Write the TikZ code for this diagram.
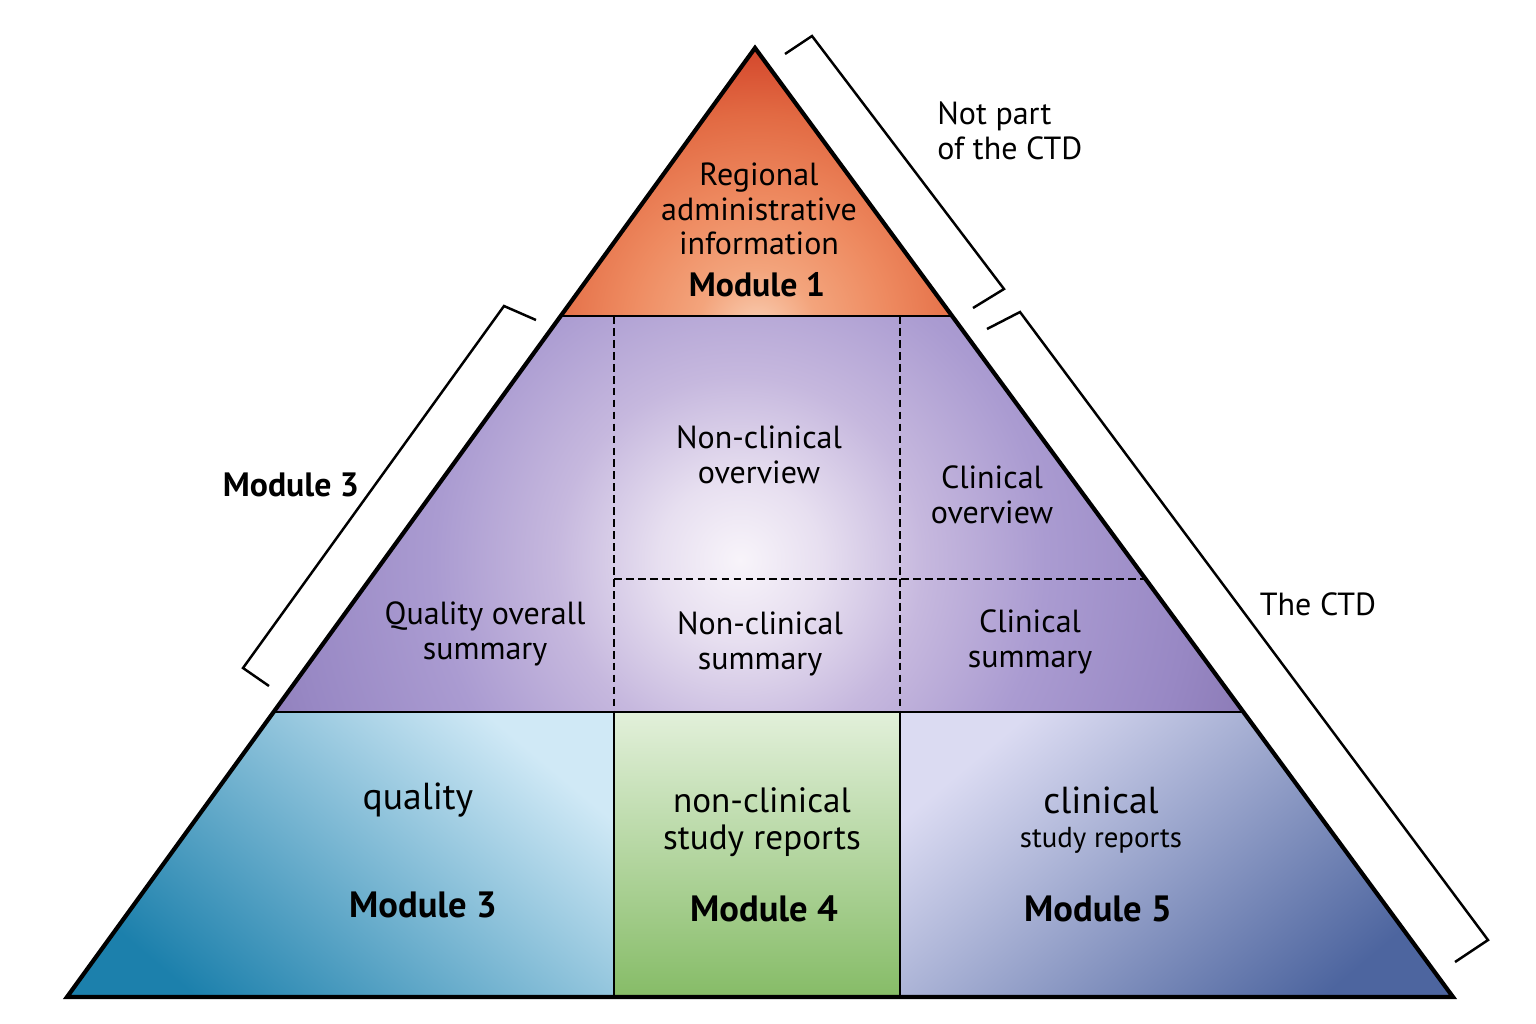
\documentclass[tikz,border=0pt]{standalone}
\usepackage{fontspec}
\setmainfont{PT Sans}
\usetikzlibrary{calc}
\definecolor{ctdredtop}{HTML}{D2442A}
\definecolor{ctdreddeep}{HTML}{E26A43}
\definecolor{ctdorange}{HTML}{EE8A60}
\definecolor{ctdorangelight}{HTML}{F3A47C}
\definecolor{ctdpeach}{HTML}{F9CEB3}
\definecolor{glowwhite}{HTML}{F8F4FA}
\definecolor{glowlight}{HTML}{E7DFF0}
\definecolor{glowmid}{HTML}{C6B8DE}
\definecolor{glowedge}{HTML}{AA9BD1}
\definecolor{glowouter}{HTML}{9888C4}
\definecolor{glowdark}{HTML}{7F6EA9}
\definecolor{qualdark}{HTML}{1C80AC}
\definecolor{quallight}{HTML}{D0E9F6}
\definecolor{ncgreen}{HTML}{86BC67}
\definecolor{ncgreenlight}{HTML}{E2F0DA}
\definecolor{clinlight}{HTML}{DBDBF2}
\definecolor{clindark}{HTML}{4D659F}
\pgfdeclareradialshading{ctdglow}{\pgfpointorigin}{color(0bp)=(glowwhite); color(4bp)=(glowlight); color(9bp)=(glowmid); color(15bp)=(glowedge); color(22bp)=(glowouter); color(30bp)=(glowdark); color(50bp)=(glowdark)}
\pgfdeclareradialshading{modoneglow}{\pgfpointorigin}{color(0bp)=(ctdpeach); color(5bp)=(ctdorangelight); color(11bp)=(ctdorange); color(18bp)=(ctdreddeep); color(24bp)=(ctdredtop); color(50bp)=(ctdredtop)}

\begin{document}
\begin{tikzpicture}[x=0.01cm, y=-0.01cm,
    outline/.style={line width=1.2pt, line join=miter},
    divider/.style={line width=0.6pt},
    dashdiv/.style={line width=0.45pt, dash pattern=on 2.2pt off 1.2pt},
    bracketline/.style={line width=0.7pt, line join=miter},
    txt/.style={align=center, font=\fontsize{9.1}{9.8}\selectfont},
    bigtxt/.style={font=\fontsize{10.7}{12}\selectfont},
    smalltxt/.style={font=\fontsize{8.2}{9.5}\selectfont},
    modtxt/.style={font=\fontsize{9.6}{11}\selectfont\bfseries},
    modbigtxt/.style={font=\fontsize{10.4}{12}\selectfont\bfseries}]
    \useasboundingbox (0,0) rectangle (1536,1024);

    % pyramid corners and band edges
    \coordinate (apex) at (755,48);
    \coordinate (bl) at (67,997);
    \coordinate (br) at (1453,997);
    \coordinate (m1l) at (561,316);
    \coordinate (m1r) at (952,316);
    \coordinate (sumdl) at (274,712);
    \coordinate (sumdr) at (1243,712);

    % fills
    \begin{scope}
        \clip (apex) -- (m1r) -- (m1l) -- cycle;
        \shade[shading=modoneglow] (457,30) rectangle (1057,630);
    \end{scope}
    \begin{scope}
        \clip (m1l) -- (m1r) -- (sumdr) -- (sumdl) -- cycle;
        \shade[shading=ctdglow] (230,50) rectangle (1250,1070);
    \end{scope}
    \shade[top color=quallight, bottom color=qualdark, shading angle=-40]
        (sumdl) -- (614,712) -- (614,997) -- (bl) -- cycle;
    \shade[top color=ncgreenlight, bottom color=ncgreen]
        (614,712) rectangle (900,997);
    \shade[top color=clinlight, bottom color=clindark, shading angle=40]
        (900,712) -- (sumdr) -- (br) -- (900,997) -- cycle;

    % dividers
    \draw[divider] (m1l) -- (m1r);
    \draw[divider] (sumdl) -- (sumdr);
    \draw[dashdiv] (614,316) -- (614,712);
    \draw[dashdiv] (900,316) -- (900,712);
    \draw[dashdiv] (614,579) -- (1146,579);
    \draw[divider] (614,712) -- (614,997);
    \draw[divider] (900,712) -- (900,997);
    \draw[outline] (apex) -- (br) -- (bl) -- cycle;

    % brackets
    \draw[bracketline] (785,54) -- (812,36) -- (1004,289) -- (973,308);
    \draw[bracketline] (987,329) -- (1020,312) -- (1488,940) -- (1455,962);
    \draw[bracketline] (536,320) -- (504,306) -- (243,668) -- (269,686);

    % labels
    \node[txt] (regadmin) at (759,209) {Regional\\administrative\\information};
    \node[modtxt] (mod1) at (757,285) {Module 1};
    \node[txt, align=left, anchor=west] (notpart) at (925,131) {Not part\\of the CTD};
    \node[modtxt] (mod3side) at (291,485) {Module 3};
    \node[txt] (ncover) at (759,455) {Non-clinical\\overview};
    \node[txt] (cover) at (992,495) {Clinical\\overview};
    \node[txt] (qos) at (485,634) {Quality overall\\summary};
    \node[txt] (ncsum) at (760,644) {Non-clinical\\summary};
    \node[txt] (csum) at (1030,642) {Clinical\\summary};
    \node[txt] (thectd) at (1318,604) {The CTD};
    \node[bigtxt] (quality) at (418,800) {quality};
    \node[modbigtxt] (mod3) at (423,905) {Module 3};
    \node[txt, font=\fontsize{10}{10.4}\selectfont] (ncsr) at (762,822) {non-clinical\\study reports};
    \node[modbigtxt] (mod4) at (764,909) {Module 4};
    \node[bigtxt] (clin) at (1101,800) {clinical};
    \node[smalltxt] (csr) at (1101,840) {study reports};
    \node[modbigtxt] (mod5) at (1098,909) {Module 5};
\end{tikzpicture}
\end{document}
